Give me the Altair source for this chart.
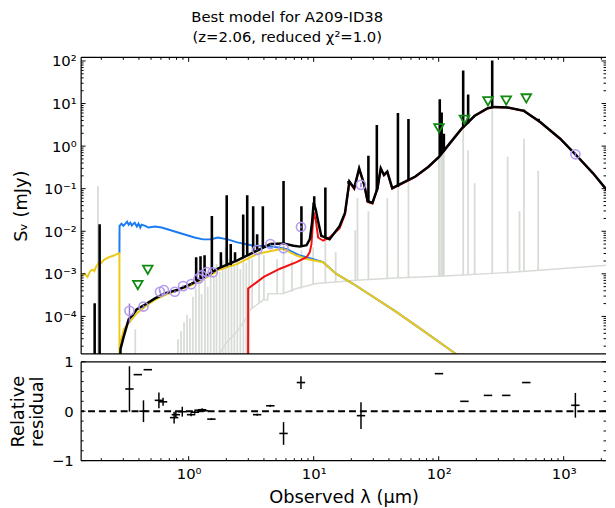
import altair as alt
import pandas as pd

# ---------------- data (wavelength in micron, flux in mJy) ----------------
FLOOR = 1e-6

black_wl = [0.2790, 0.285, 0.303, 0.331, 0.358, 0.383, 0.449, 0.538, 0.646, 0.822, 1.05, 1.34, 1.71,
            2.45, 3.53, 4.5, 5.74, 6.89, 7.77, 8.77, 9.32, 9.7, 10.0, 10.4, 10.7, 11.5, 13.4, 16.1,
            17.8, 19.3, 21.1, 23.1, 25.4, 27.0, 29.5, 32.4, 34.4, 36.5, 38.8, 42.5, 51.0, 65.0, 82.8,
            100.5, 119, 152, 194, 247, 279, 355, 481, 652, 938, 1240, 1718, 2259]
black_s = [FLOOR, 1.72e-5, 3.44e-5, 8.5e-5, 1.1e-4, 1.45e-4, 1.90e-4, 2.65e-4, 3.47e-4, 4.23e-4,
           5.82e-4, 8.45e-4, 1.32e-3, 2.06e-3, 3.52e-3, 5.0e-3, 5.19e-3, 4.59e-3, 4.36e-3, 4.7e-3,
           6.53e-3, 1.6e-2, 4.7e-2, 3.2e-2, 2.08e-2, 7.8e-3, 6.53e-3, 1.32e-2, 2.7e-2, 0.148, 0.103,
           0.30, 0.123, 0.0507, 0.0463, 0.103, 0.30, 0.21, 0.252, 0.103, 0.135, 0.193, 0.328, 0.56,
           1.04, 2.54, 5.16, 7.78, 8.34, 8.07, 6.73, 3.63, 1.49, 0.643, 0.23, 0.0865]

# emission lines of the total model: wavelength, continuum level, peak
bline_wl = [0.177, 0.194, 1.148, 1.244, 1.34, 1.533, 1.81, 2.015, 2.17, 2.35, 2.73, 2.94, 3.28,
            3.53, 3.92, 5.74, 7.98, 10.1, 12.4, 19.0, 27.4, 32.0, 47.2, 57.3, 102, 105.6, 110,
            157, 172, 268, 481, 630]
bline_lo = [FLOOR, FLOOR, 6.47e-4, 7.2e-4, 8.45e-4, 1.0e-3, 1.38e-3, 1.5e-3, 1.6e-3, 1.9e-3, 2.4e-3,
            2.7e-3, 3.2e-3, 3.5e-3, 4.0e-3, 5.2e-3, 4.4e-3, 4.0e-2, 6.8e-3, 0.13, 0.05, 0.09, 0.11,
            0.16, 0.6, 0.65, 0.75, 2.7, 3.4, 8.3, 6.7, 3.9]
bline_hi = [2.03e-4, 1.46e-2, 2.46e-3, 2.6e-3, 2.74e-3, 2.28e-2, 3.21e-3, 7.0e-2, 5.0e-3, 3.21e-3,
            2.48e-2, 7.0e-2, 3.88e-2, 8.5e-3, 3.88e-2, 0.152, 3.88e-2, 6.6e-2, 0.107, 0.152, 0.59,
            3.14, 5.96, 4.33, 12.6, 6.18, 1.94, 60.1, 16.4, 102.6, 7.1, 4.4]

red_wl = [2.985, 2.99, 3.99, 5.38, 7.29, 8.77, 9.3, 9.6, 10.0, 10.4, 10.85, 11.9, 13.4, 16.1, 17.8,
          19.3, 21.1, 23.1, 25.4, 27.0, 29.5, 32.4, 34.4, 36.5, 38.8, 42.5, 51.0, 65.0, 82.8, 100.5,
          119, 152, 194, 247, 279, 355, 481, 652, 938, 1240, 1718, 2259]
red_s = [FLOOR, 4.53e-4, 8.45e-4, 1.32e-3, 1.88e-3, 2.46e-3, 3.2e-3, 5.0e-3, 2.8e-2, 1.8e-2, 7.14e-3,
         6.0e-3, 7.14e-3, 1.17e-2, 2.5e-2, 0.141, 0.10, 0.292, 0.12, 0.049, 0.045, 0.10, 0.292, 0.205,
         0.246, 0.10, 0.132, 0.19, 0.323, 0.553, 1.03, 2.52, 5.13, 7.74, 8.3, 8.04, 6.7, 3.61, 1.48,
         0.64, 0.229, 0.086]

blue_wl = [0.2793, 0.2800, 0.29, 0.30, 0.312, 0.322, 0.331, 0.342, 0.351, 0.362, 0.37, 0.385, 0.397,
           0.41, 0.42, 0.449, 0.477, 0.538, 0.607, 0.686, 0.822, 0.987, 1.115, 1.30, 1.51, 1.71,
           2.05, 2.45, 3.32, 4.23, 5.08, 6.1, 6.89, 7.77, 8.77, 11.9, 15.1, 20.5, 45.2, 78, 134, 194]
blue_s = [3.05e-3, 1.34e-2, 1.51e-2, 1.35e-2, 1.51e-2, 1.68e-2, 1.43e-2, 1.59e-2, 1.36e-2, 1.51e-2,
          1.59e-2, 1.29e-2, 1.51e-2, 1.22e-2, 1.43e-2, 1.34e-2, 1.22e-2, 1.29e-2, 1.22e-2, 1.10e-2,
          9.33e-3, 7.94e-3, 7.14e-3, 6.45e-3, 6.53e-3, 7.14e-3, 6.45e-3, 5.48e-3, 4.59e-3, 4.43e-3,
          4.2e-3, 3.8e-3, 3.21e-3, 2.69e-3, 2.46e-3, 1.88e-3, 1.01e-3, 5.92e-4, 1.31e-4, 4.27e-5,
          1.38e-5, 6.6e-6]

yellow_wl = [0.133, 0.146, 0.155, 0.163, 0.170, 0.176, 0.181, 0.192, 0.200, 0.210, 0.230, 0.252,
             0.276, 0.2793, 0.2796, 0.285, 0.303, 0.331, 0.386, 0.449, 0.538, 0.646, 0.822, 0.987,
             1.185, 1.51, 1.71, 2.45, 3.53, 4.78, 5.67, 6.1, 7.29, 8.77, 11.9, 15.1, 20.5, 45.2,
             78, 134, 194]
yellow_s = [8.45e-4, 1.01e-3, 8.45e-4, 1.16e-3, 1.25e-3, 1.16e-3, 1.44e-3, 1.88e-3, 1.79e-3, 2.13e-3,
            2.46e-3, 2.69e-3, 3.05e-3, 3.05e-3, FLOOR, 2.4e-5, 5.0e-5, 7.0e-5, 1.19e-4, 1.71e-4,
            2.48e-4, 3.18e-4, 4.23e-4, 4.95e-4, 6.47e-4, 9.27e-4, 1.21e-3, 1.72e-3, 2.93e-3, 3.52e-3,
            3.89e-3, 3.52e-3, 2.69e-3, 2.24e-3, 1.88e-3, 1.01e-3, 5.92e-4, 1.31e-4, 4.27e-5, 1.38e-5,
            6.6e-6]

neb_wl = [1.60, 1.75, 2.05, 2.45, 2.80, 3.12, 3.99, 4.28, 4.30, 5.74, 7.29, 10.5, 15.0, 21.6, 45.3,
          111, 410, 2259]
neb_s = [FLOOR, 1.32e-5, 2.63e-5, 4.47e-5, 7.9e-5, 1.45e-4, 2.48e-4, 2.4e-4, 3.41e-4, 3.47e-4,
         4.53e-4, 5.92e-4, 6.47e-4, 7.1e-4, 8.0e-4, 8.9e-4, 1.10e-3, 1.60e-3]

# nebular emission lines: wavelength, base, peak
nline_wl = [0.188, 0.374, 0.822, 0.869, 0.918, 0.97, 1.024, 1.08, 1.14, 1.21, 1.27, 1.35, 1.42, 1.50,
            1.59, 1.67, 1.77, 1.87, 1.97, 2.08, 2.20, 2.32, 2.45, 2.59, 2.74, 2.89, 3.05,
            3.22, 3.66, 4.0, 5.1, 5.74, 6.7, 7.98, 9.9, 12.4, 15.0, 21.5, 22.4, 27.4, 38.8,
            47.4, 57.3, 100.5, 102, 105.6, 108, 110, 157, 172, 194, 268, 356, 443, 481, 625]
nline_lo = [FLOOR] * 27 + [1.6e-4, 2.1e-4, 2.48e-4, 3.4e-4, 3.47e-4, 3.8e-4, 4.5e-4, 5.8e-4, 6.1e-4,
                           6.47e-4, 7.1e-4, 7.1e-4, 7.3e-4, 7.7e-4, 8.0e-4, 8.2e-4, 8.8e-4, 8.8e-4,
                           8.8e-4, 8.8e-4, 8.9e-4, 9.2e-4, 9.3e-4, 9.5e-4, 9.8e-4, 1.02e-3, 1.1e-3,
                           1.12e-3, 1.2e-3]
nline_hi = [0.115, 5.0e-5, 2.9e-5, 4.5e-5, 7.3e-5, 1.1e-4, 9.0e-5, 2.9e-4, 4.5e-4, 6.2e-4, 3.4e-4,
            7.2e-4, 5.0e-4, 1.23e-3, 8.5e-4, 1.7e-3, 1.1e-3, 2.1e-3, 4.2e-3, 2.2e-3, 2.75e-3, 1.6e-3,
            1.9e-3, 1.3e-3, 2.5e-3, 1.8e-3, 3.2e-3,
            2.2e-3, 3.57e-3, 2.74e-3, 2.2e-3, 5.0e-3,
            2.09e-3, 3.57e-3, 4.2e-3, 7.14e-3, 3.2e-3, 1.05e-2, 0.0605, 0.0297, 0.0605, 0.193, 0.176,
            2.5, 2.0, 1.58, 1.0, 0.87, 3.63, 0.8, 0.135, 10.0, 0.56, 0.0297, 1.49, 0.265]

obs_wl = [0.336, 0.435, 0.59, 0.634, 0.775, 0.902, 1.05, 1.2, 1.27, 1.40, 1.56, 3.53, 4.5, 5.74,
          7.91, 23.9, 1240]
obs_s = [1.355e-4, 1.706e-4, 3.80e-4, 4.16e-4, 3.80e-4, 5.15e-4, 5.73e-4, 7.73e-4, 9.27e-4, 1.104e-3,
         1.086e-3, 3.63e-3, 5.01e-3, 3.98e-3, 1.265e-2, 0.123, 0.643]
obs_err = [6.5e-5, 1.5e-5, 2.5e-5, 1.5e-5, 2.5e-5, 2.5e-5, 1.5e-5, 1.5e-5, 2.0e-5, 2.0e-5, 2.0e-5,
           1.0e-4, 1.5e-4, 4.0e-4, 8.0e-4, 1.5e-2, 8.0e-2]

lim_wl = [0.392, 0.471, 100.5, 160.6, 248, 347, 502]
lim_s = [5.43e-4, 1.247e-3, 2.63, 4.17, 11.3, 11.7, 13.2]

res_wl = [0.336, 0.392, 0.435, 0.471, 0.578, 0.624, 0.765, 0.79, 0.889, 1.045, 1.12, 1.20, 1.28,
          1.33, 1.52, 3.53, 4.5, 5.74, 7.91, 23.9, 100.5, 160.6, 248, 347, 502, 1240]
res_val = [0.45, 0.74, 0.0, 0.84, 0.22, 0.19, -0.13, -0.07, -0.01, -0.07, -0.02, 0.02, 0.03, 0.01,
           -0.16, -0.07, 0.11, -0.45, 0.58, -0.09, 0.76, 0.20, 0.32, 0.32, 0.58, 0.12]
res_err = [0.46, 0.0, 0.22, 0.0, 0.16, 0.08, 0.12, 0.06, 0.10, 0.03, 0.03, 0.02, 0.03, 0.02, 0.02,
           0.02, 0.02, 0.23, 0.13, 0.27, 0.0, 0.0, 0.0, 0.0, 0.0, 0.25]

x_major = [1, 10, 100, 1000]
y_major = [1e-4, 1e-3, 1e-2, 1e-1, 1, 10, 100]
r_major = [-1, 0, 1]
r_minor = [-0.8, -0.6, -0.4, -0.2, 0.2, 0.4, 0.6, 0.8]

# ---------------- layout / style ----------------
FONT = "DejaVu Sans"
W, H1, H2 = 531, 300, 100
XMIN, XMAX = 0.138, 2180.0
YMIN, YMAX = 1.318e-5, 121.6
MAJ, MIN = 4.5, 2.5

x_minor = [k * 10.0 ** e for e in range(-1, 4) for k in range(2, 10) if XMIN <= k * 10.0 ** e <= XMAX]
y_minor = [k * 10.0 ** e for e in range(-5, 2) for k in range(2, 10) if YMIN <= k * 10.0 ** e <= YMAX]

xs = alt.Scale(type="log", domain=[XMIN, XMAX], nice=False)
ys = alt.Scale(type="log", domain=[YMIN, YMAX], nice=False)
rs = alt.Scale(domain=[-1, 1], nice=False, zero=False)

C_GRAY = "#d8dcd6"
C_BLUE = "#1a7cf2"
C_GOLD = "#ecc918"
C_RED = "#f21010"
C_PURP = "#b49af0"
C_GREEN = "#128a12"

y_lab = ("datum.value > 50 ? '10²' : datum.value > 5 ? '10¹' : datum.value > 0.5 ? '10⁰' : "
         "datum.value > 0.05 ? '10⁻¹' : datum.value > 0.005 ? '10⁻²' : "
         "datum.value > 0.0005 ? '10⁻³' : '10⁻⁴'")
x_lab = "datum.value > 500 ? '10³' : datum.value > 50 ? '10²' : datum.value > 5 ? '10¹' : '10⁰'"
r_lab = "datum.value < -0.5 ? '−1' : datum.value > 0.5 ? '1' : '0'"

UP_Y_AXIS = alt.Axis(values=y_major, labelExpr=y_lab, title="S\u1d65 (mJy)", titleX=-60, titleY=H1 / 2,
                     titleBaseline="middle", titleAlign="center", labelPadding=5, titleFontSize=18)
LO_Y_AXIS = alt.Axis(values=r_major, labelExpr=r_lab, title=["Relative", "residual"], titleX=-63,
                     titleY=H2 / 2, titleBaseline="middle", titleAlign="center", titleLineHeight=19,
                     labelPadding=8, titleFontSize=18)
LO_X_AXIS = alt.Axis(values=x_major, labelExpr=x_lab, title="Observed λ (μm)", labelPadding=6,
                     titlePadding=7, titleFontSize=18)


class Panel:
    def __init__(self, xaxis, yscale, yaxis, H):
        self.xaxis, self.yscale, self.yaxis, self.H = xaxis, yscale, yaxis, H

    def X(self, f):
        return alt.X(f, type="quantitative", scale=xs, axis=self.xaxis)

    def Y(self, f):
        return alt.Y(f, type="quantitative", scale=self.yscale, axis=self.yaxis)

    def line(self, wl, s, color, width):
        df = pd.DataFrame({"wl": wl, "s": s, "i": list(range(len(wl)))})
        return alt.Chart(df).mark_line(color=color, strokeWidth=width, clip=True).encode(
            x=self.X("wl"), y=self.Y("s"), order=alt.Order("i:Q"))

    def spikes(self, wl, lo, hi, color, width):
        df = pd.DataFrame({"wl": wl, "lo": lo, "hi": hi})
        return alt.Chart(df).mark_rule(color=color, strokeWidth=width, clip=True).encode(
            x=self.X("wl"), y=self.Y("lo"), y2="hi")

    def xticks(self, vals, length, top):
        df = pd.DataFrame({"v": vals})
        if top:
            enc = dict(y=alt.value(0), y2=alt.value(length))
        else:
            enc = dict(y=alt.value(self.H - length), y2=alt.value(self.H))
        return alt.Chart(df).mark_rule(color="black", strokeWidth=1).encode(x=self.X("v"), **enc)

    def yticks(self, vals, length):
        df = pd.DataFrame({"v": vals})
        left = alt.Chart(df).mark_rule(color="black", strokeWidth=1).encode(
            y=self.Y("v"), x=alt.value(0), x2=alt.value(length))
        right = alt.Chart(df).mark_rule(color="black", strokeWidth=1).encode(
            y=self.Y("v"), x=alt.value(W - length), x2=alt.value(W))
        return [left, right]

    def frame(self):
        # left, top and bottom spines (the right spine lies outside the picture)
        df = pd.DataFrame({"k": [0]})
        base = alt.Chart(df).mark_rule(color="black", strokeWidth=1.2)
        return [
            base.encode(x=alt.value(0), y=alt.value(0), y2=alt.value(self.H)),
            base.encode(x=alt.value(0), x2=alt.value(W), y=alt.value(0)),
            base.encode(x=alt.value(0), x2=alt.value(W), y=alt.value(self.H)),
        ]


up = Panel(None, ys, UP_Y_AXIS, H1)
lo = Panel(LO_X_AXIS, rs, LO_Y_AXIS, H2)

obs_df = pd.DataFrame({"wl": obs_wl, "s": obs_s, "err": obs_err})
obs_err_layer = alt.Chart(obs_df).transform_calculate(
    lo="datum.s - datum.err", hi="datum.s + datum.err").mark_rule(
    color="#8f74d9", strokeWidth=1.5).encode(x=up.X("wl"), y=up.Y("lo"), y2="hi")
obs_layer = alt.Chart(obs_df).mark_point(shape="circle", filled=False, stroke=C_PURP, strokeWidth=1.6,
                                         size=85, opacity=1).encode(x=up.X("wl"), y=up.Y("s"))
lim_layer = alt.Chart(pd.DataFrame({"wl": lim_wl, "s": lim_s})).mark_point(
    shape="triangle-down", filled=False, stroke=C_GREEN, strokeWidth=1.8, size=95, opacity=1).encode(
    x=up.X("wl"), y=up.Y("s"))

upper_layers = [
    up.spikes(nline_wl, nline_lo, nline_hi, C_GRAY, 1.8),
    up.line(neb_wl, neb_s, C_GRAY, 1.5),
    up.line(blue_wl, blue_s, C_BLUE, 2),
    up.line(yellow_wl, yellow_s, C_GOLD, 2),
    up.line(red_wl, red_s, C_RED, 2),
    up.line(black_wl, black_s, "black", 2.5),
    up.spikes(bline_wl, bline_lo, bline_hi, "black", 2.6),
    obs_err_layer, obs_layer, lim_layer,
    up.xticks(x_major, MAJ, True), up.xticks(x_minor, MIN, True),
] + up.yticks(y_major, MAJ) + up.yticks(y_minor, MIN) + up.frame()

upper = alt.layer(*upper_layers).properties(
    width=W, height=H1,
    title=alt.TitleParams(["Best model for A209-ID38", "(z=2.06, reduced χ²=1.0)"], font=FONT,
                          fontSize=15, fontWeight="normal", anchor="middle", dx=-57, offset=9,
                          lineHeight=20, color="black"))

# ---------------- residual panel ----------------
res_df = pd.DataFrame({"wl": res_wl, "r": res_val, "e": res_err})
zero_layer = alt.Chart(pd.DataFrame({"z": [0]})).mark_rule(
    color="black", strokeWidth=2, strokeDash=[7, 4]).encode(y=lo.Y("z"))
res_err_layer = alt.Chart(res_df).transform_calculate(
    lo="datum.r - datum.e", hi="datum.r + datum.e").mark_rule(color="black", strokeWidth=1.5).encode(
    x=lo.X("wl"), y=lo.Y("lo"), y2="hi")
res_pt_layer = alt.Chart(res_df).mark_point(shape="M-1,0L1,0", filled=False, stroke="black",
                                            strokeWidth=1.6, size=72, opacity=1).encode(
    x=lo.X("wl"), y=lo.Y("r"))

lower_layers = [
    zero_layer, res_err_layer, res_pt_layer,
    lo.xticks(x_major, MAJ, False), lo.xticks(x_minor, MIN, False),
] + lo.yticks(r_major, MAJ) + lo.yticks(r_minor, MIN) + lo.frame()

lower = alt.layer(*lower_layers).properties(width=W, height=H2)

chart = alt.vconcat(upper, lower, spacing=0).properties(
    padding={"left": 2, "top": -1, "right": 0, "bottom": 0}, background="white"
).configure_view(strokeWidth=0).configure_axis(
    labelFont=FONT, titleFont=FONT, labelFontSize=15, labelColor="black", titleColor="black",
    titleFontWeight="normal", grid=False, ticks=False, tickSize=0, domain=False
)

chart.save("out.html", embed_options={"renderer": "svg", "actions": False})
